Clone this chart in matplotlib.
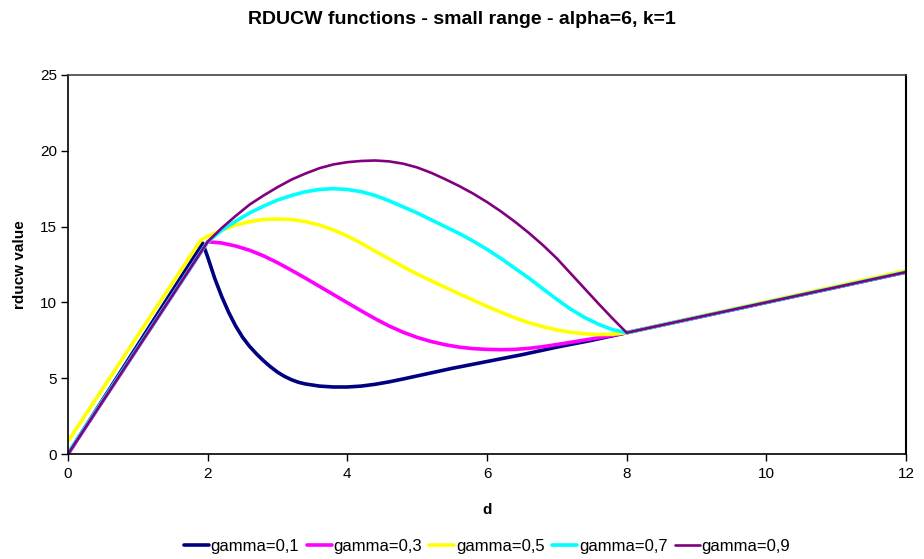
import matplotlib
matplotlib.use("Agg")
import matplotlib.pyplot as plt

plt.rcParams['font.family'] = ['Liberation Sans', 'DejaVu Sans']

# gamma = 0.1
d_g1 = [0, 1.93, 2.0, 2.1, 2.2, 2.3, 2.4, 2.5, 2.6, 2.7, 2.8, 2.9, 3.0, 3.1, 3.2, 3.3,
        3.4, 3.6, 3.8, 4.0, 4.2, 4.4, 4.6, 4.8, 5.0, 5.5, 6.0, 6.5, 7.0, 7.5, 8.0, 12.0]
v_g1 = [0, 13.9, 13.0, 11.6, 10.4, 9.35, 8.45, 7.7, 7.1, 6.6, 6.15, 5.75, 5.4, 5.12, 4.9,
        4.73, 4.62, 4.48, 4.42, 4.42, 4.48, 4.6, 4.76, 4.95, 5.15, 5.65, 6.1, 6.55, 7.05,
        7.5, 8.0, 12.0]

# common grid of the middle section, d = 2.0 ... 8.0
d_mid = [2.0, 2.2, 2.4, 2.6, 2.8, 3.0, 3.2, 3.4, 3.6, 3.8, 4.0, 4.2, 4.4, 4.6, 4.8, 5.0,
         5.2, 5.4, 5.6, 5.8, 6.0, 6.2, 6.4, 6.6, 6.8, 7.0, 7.2, 7.4, 7.6, 7.8, 8.0]

# gamma = 0.3
d_g3 = [0] + d_mid + [12.0]
v_g3 = [0, 14.0, 13.92, 13.72, 13.44, 13.07, 12.62, 12.12, 11.6, 11.06, 10.52, 9.98, 9.44,
        8.92, 8.44, 8.03, 7.69, 7.42, 7.21, 7.05, 6.95, 6.9, 6.88, 6.9, 6.97, 7.08, 7.22,
        7.37, 7.52, 7.67, 7.83, 8.0, 12.0]

# gamma = 0.5
d_g5 = [0, 1.9] + d_mid + [12.0]
v_g5 = [0.85, 14.1, 14.35, 14.75, 15.1, 15.32, 15.47, 15.5, 15.47, 15.33, 15.1, 14.78,
        14.38, 13.9, 13.38, 12.86, 12.35, 11.87, 11.43, 11.0, 10.57, 10.15, 9.74, 9.35,
        8.98, 8.66, 8.4, 8.18, 8.03, 7.93, 7.88, 7.9, 8.0, 12.1]

# gamma = 0.7
d_g7 = [0] + d_mid + [12.0]
v_g7 = [0.05, 14.0, 14.75, 15.35, 15.9, 16.35, 16.75, 17.05, 17.3, 17.45, 17.5, 17.45,
        17.3, 17.05, 16.7, 16.3, 15.9, 15.45, 15.0, 14.55, 14.05, 13.5, 12.9, 12.25, 11.6,
        10.9, 10.2, 9.55, 9.0, 8.55, 8.2, 8.0, 12.0]

# gamma = 0.9
d_g9 = [0] + d_mid + [12.0]
v_g9 = [0, 14.0, 14.9, 15.7, 16.45, 17.05, 17.6, 18.1, 18.5, 18.85, 19.1, 19.25, 19.33,
        19.36, 19.3, 19.15, 18.9, 18.55, 18.13, 17.68, 17.18, 16.62, 16.0, 15.32, 14.58,
        13.78, 12.9, 11.9, 10.9, 9.9, 8.93, 8.0, 12.0]

labels = ['gamma=0,1', 'gamma=0,3', 'gamma=0,5', 'gamma=0,7', 'gamma=0,9']
colors = ['#000080', '#FF00FF', '#FFFF00', '#00FFFF', '#800080']
widths = [2.6, 2.6, 2.6, 2.6, 1.9]
series = [(d_g1, v_g1), (d_g3, v_g3), (d_g5, v_g5), (d_g7, v_g7), (d_g9, v_g9)]

x_ticks = [0, 2, 4, 6, 8, 10, 12]
y_ticks = [0, 5, 10, 15, 20, 25]

fig = plt.figure(figsize=(9.24, 5.59), dpi=100)
ax = fig.add_axes([68 / 924, 1 - 454 / 559, (906 - 68) / 924, (454 - 75) / 559])

for (xs, ys), lab, col, lw in zip(series, labels, colors, widths):
    ax.plot(xs, ys, color=col, lw=lw, label=lab, solid_joinstyle='round',
            solid_capstyle='round')

ax.set_xlim(0, 12)
ax.set_ylim(0, 25)
ax.set_xticks(x_ticks)
ax.set_yticks(y_ticks)
ax.tick_params(axis='both', direction='out', length=5, width=1, labelsize=11, colors='black')
ax.tick_params(axis='x', pad=4)
ax.tick_params(axis='y', pad=3)

for side in ['left', 'bottom']:
    ax.spines[side].set_color('black')
    ax.spines[side].set_linewidth(1.2)
ax.spines['top'].set_color('#444444')
ax.spines['top'].set_linewidth(1.2)
ax.spines['right'].set_color('black')
ax.spines['right'].set_linewidth(1.5)

ax.set_xlabel('d', fontsize=11, fontweight='bold', labelpad=16)
ax.set_ylabel('rducw value', fontsize=11, fontweight='bold', labelpad=9)
fig.suptitle('RDUCW functions - small range - alpha=6, k=1', fontsize=14,
             fontweight='bold', y=1 - 20 / 559, va='center')

fig.legend(loc='center', bbox_to_anchor=(487 / 924, 1 - 546 / 559), ncol=5, frameon=False,
           fontsize=12, handlelength=1.5, handletextpad=0.1, columnspacing=0.45)

fig.savefig('out.png', dpi=100)
